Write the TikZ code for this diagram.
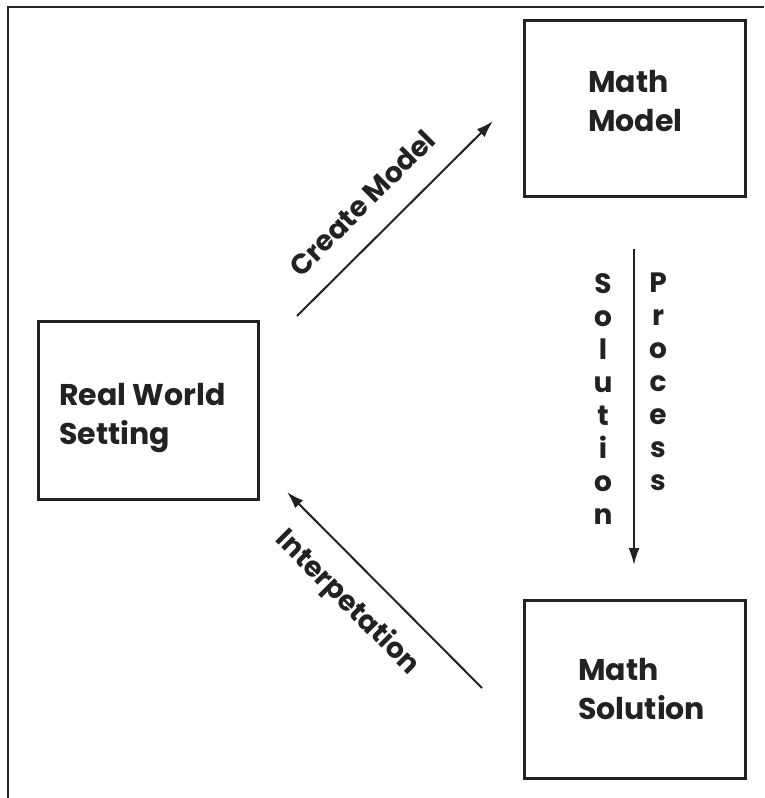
\documentclass[tikz,border=0pt]{standalone}
\usepackage{fontspec}
\setmainfont{Poppins}
\usetikzlibrary{arrows.meta}
\definecolor{ink}{HTML}{222222}
\begin{document}
\begin{tikzpicture}[x=1pt,y=-1pt,
  box/.style={draw=ink, line width=2.8pt, minimum width=221pt, inner sep=0pt, anchor=north west},
  boxtext/.style={anchor=north west, align=left, inner sep=0pt, font=\bfseries\fontsize{30}{39}\selectfont, text=ink},
  flow/.style={draw=ink, line width=2pt, -{Latex[length=17pt,width=11pt]}},
  lbl/.style={inner sep=0pt, font=\bfseries\fontsize{28}{33}\selectfont, text=ink}]
\useasboundingbox (0,0) rectangle (764,798);
\fill[white] (0,0) rectangle (764,798);
\draw[ink, line width=2.8pt] (764,7) -- (8,7) -- (8,798);
% boxes
\node[box, minimum height=176pt] (model) at (523,19) {};
\node[box, minimum width=220pt, minimum height=178pt] (real) at (37,320) {};
\node[box, minimum height=178pt] (sol) at (523,599) {};
\node[boxtext] (modeltext) at (588,70) {Math\\Model};
\node[boxtext] (realtext) at (59,383) {Real World\\Setting};
\node[boxtext] (soltext) at (578,658) {Math\\Solution};
% create model
\coordinate (cmstart) at (297,316);
\coordinate (cmend) at (493,121);
\draw[flow] (cmstart) -- (cmend);
\node[lbl, rotate=45] (cmlabel) at (362,203) {Create Model};
% solution process
\coordinate (spstart) at (634,249);
\coordinate (spend) at (634,565);
\draw[flow] (spstart) -- (spend);
\node[lbl, anchor=north, align=center] (sollabel) at (603,273) {S\\o\\l\\u\\t\\i\\o\\n};
\node[lbl, anchor=north, align=center] (proclabel) at (658,273) {P\\r\\o\\c\\e\\s\\s};
% interpretation
\coordinate (ipstart) at (482,688);
\coordinate (ipend) at (287,492);
\draw[flow] (ipstart) -- (ipend);
\node[lbl, rotate=-45] (iplabel) at (347,603) {Interpetation};
\end{tikzpicture}
\end{document}
